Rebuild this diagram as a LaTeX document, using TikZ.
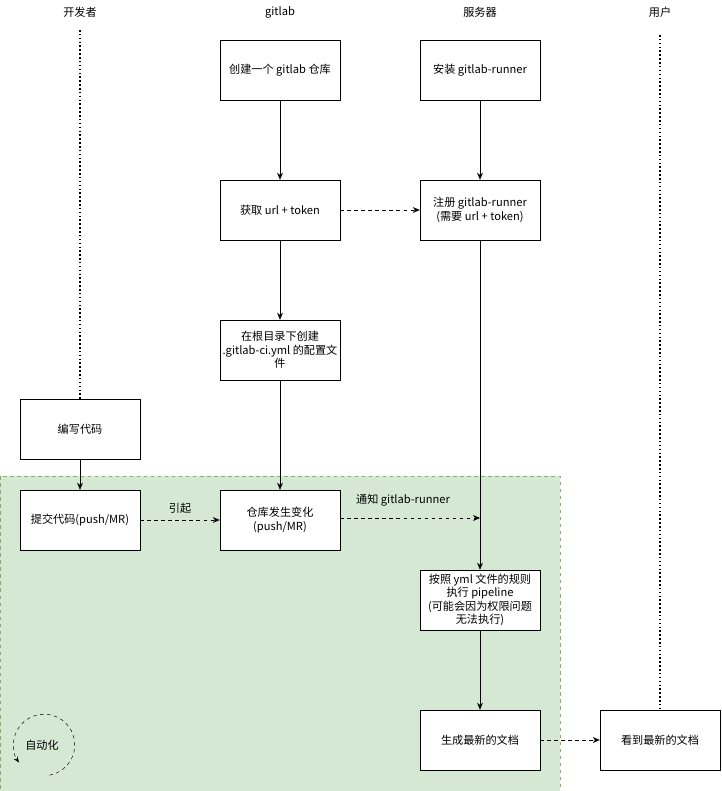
\documentclass[tikz,border=0pt]{standalone}
\usepackage{fontspec}
\setmainfont{Noto Sans CJK SC}
\usetikzlibrary{arrows.meta, positioning}
\definecolor{autofill}{HTML}{D5E8D4}
\definecolor{autoline}{HTML}{82B366}

\begin{document}
\begin{tikzpicture}[x=0.03cm, y=-0.03cm, font=\fontsize{9.5}{11.5}\selectfont]

  % Define styles
  \tikzstyle{stepbox} = [rectangle, draw, fill=white, minimum width=3.6cm, minimum height=1.8cm, align=center, inner sep=1pt]
  \tikzstyle{flow} = [draw, -{Stealth[length=6pt, width=5pt]}]
  \tikzstyle{notify} = [flow, dashed]
  \tikzstyle{lifeline} = [draw, dotted, line width=1.3pt]

  \useasboundingbox (0,0) rectangle (721,791);

  % Automated region
  \draw[autoline, fill=autofill, dashed] (0,476) rectangle (560,791);

  % Labels
  \node (dev) at (80,12) {开发者};
  \node (git) at (280,12) {gitlab};
  \node (srv) at (480,12) {服务器};
  \node (usr) at (660,12) {用户};

  % Developer
  \node[stepbox] (write) at (80,429) {编写代码};
  \node[stepbox] (commit) at (80,520) {提交代码(push/MR)};

  % Gitlab
  \node[stepbox] (create) at (280,70) {创建一个 gitlab 仓库};
  \node[stepbox] (token) at (280,210) {获取 url + token};
  \node[stepbox] (config) at (280,350) {在根目录下创建\\.gitlab-ci.yml 的配置文\\件};
  \node[stepbox] (change) at (280,520) {仓库发生变化\\(push/MR)};

  % Server
  \node[stepbox] (install) at (480,70) {安装 gitlab-runner};
  \node[stepbox] (register) at (480,210) {注册 gitlab-runner\\(需要 url + token)};
  \node[stepbox] (run) at (480,600) {按照 yml 文件的规则\\执行 pipeline\\(可能会因为权限问题\\无法执行)};
  \node[stepbox] (docs) at (480,740) {生成最新的文档};
  \coordinate (hit) at (480,518);

  % User
  \node[stepbox] (see) at (660,740) {看到最新的文档};

  % Lifelines
  \draw[lifeline] (80,30) -- (write.north);
  \draw[lifeline] (660,35) -- (see.north);

  % Connections
  \draw[flow] (write) -- (commit);
  \draw[flow] (create) -- (token);
  \draw[flow] (token) -- (config);
  \draw[flow] (config) -- (change);
  \draw[flow] (install) -- (register);
  \draw[flow] (register) -- (run);
  \draw[flow] (run) -- (docs);
  \draw[notify] (token) -- (register);
  \draw[notify] (commit) -- node[above=2pt] {引起} (change);
  \draw[notify] (change.east |- hit) -- (hit);
  \node at (403,500) {通知 gitlab-runner};
  \draw[notify] (docs) -- (see);

  % Loop mark
  \node (auto) at (42,745) {自动化};
  \draw[dashed, -{Stealth[length=5pt, width=4pt]}] (49.4,775.1) arc[start angle=-80, end angle=215, radius=0.92cm];

\end{tikzpicture}
\end{document}
